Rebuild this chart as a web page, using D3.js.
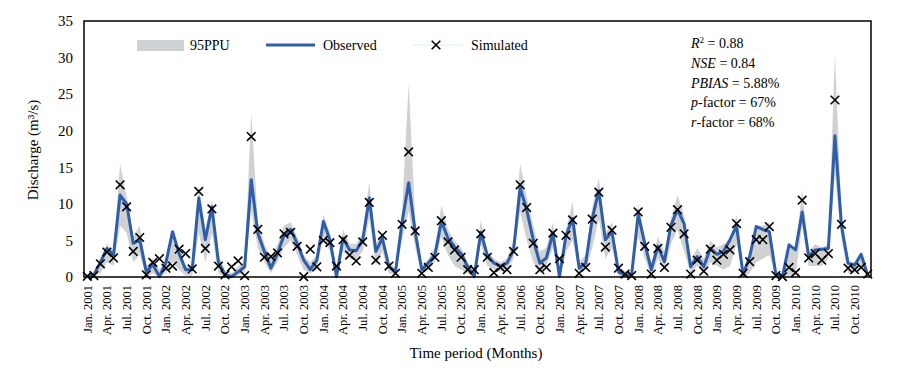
<!DOCTYPE html>
<html>
<head>
<meta charset="utf-8">
<script src="https://cdn.jsdelivr.net/npm/d3@7"></script>
<style>
  body { margin: 0; background: #fff; }
  text { font-family: "Liberation Serif", "Times New Roman", serif; fill: #000; }
</style>
</head>
<body>
<div id="chart"></div>
<script>
// monthly series, Jan 2001 - Dec 2010
const monthNames = ["Jan.", "Feb.", "Mar.", "Apr.", "May.", "Jun.", "Jul.", "Aug.", "Sep.", "Oct.", "Nov.", "Dec."];
const years = [2001, 2002, 2003, 2004, 2005, 2006, 2007, 2008, 2009, 2010];
const months = years.flatMap(y => monthNames.map(m => m + " " + y));

const observed = [
  0.1, 0.3, 2.0, 3.9, 3.0, 11.2, 10.0, 4.6, 5.1, 0.7, 1.7, 0.05,
  2.0, 6.2, 3.2, 1.0, 1.0, 10.8, 5.1, 9.6, 2.0, 0.3, 0.05, 0.7,
  1.4, 13.3, 6.0, 3.5, 1.2, 3.2, 5.7, 6.5, 4.6, 2.3, 1.0, 2.3,
  7.6, 5.1, 0.05, 5.3, 3.7, 3.6, 5.1, 10.8, 3.5, 5.3, 1.4, 0.7,
  7.5, 12.9, 6.2, 1.0, 1.9, 3.0, 7.6, 5.3, 4.1, 3.2, 1.4, 0.05,
  6.1, 3.0, 1.9, 1.5, 1.9, 3.7, 12.2, 9.2, 5.1, 1.9, 2.6, 6.0,
  0.05, 5.7, 8.0, 1.2, 1.9, 8.0, 11.8, 5.1, 6.2, 0.7, 0.3, 0.3,
  8.6, 4.6, 1.0, 4.2, 2.1, 7.1, 9.2, 7.3, 1.4, 2.8, 1.4, 3.9,
  3.1, 3.5, 5.1, 7.0, 0.3, 2.8, 6.9, 6.5, 6.2, 0.3, 0.05, 4.4,
  3.7, 8.9, 2.8, 3.7, 3.8, 3.9, 19.3, 7.0, 1.9, 1.6, 3.1, 0.2
];

const simulated = [
  0.1, 0.2, 1.8, 3.4, 2.6, 12.6, 9.6, 3.5, 5.4, 0.3, 2.0, 2.5,
  1.2, 1.5, 3.8, 3.2, 1.1, 11.7, 3.9, 9.3, 1.5, 0.3, 1.4, 2.2,
  0.2, 19.2, 6.5, 2.7, 2.8, 3.3, 5.9, 6.1, 4.2, 0.05, 3.8, 1.4,
  5.0, 4.7, 1.5, 5.1, 3.0, 2.2, 4.8, 10.2, 2.3, 5.7, 1.5, 0.5,
  7.2, 17.1, 6.3, 0.5, 1.3, 2.7, 7.7, 4.8, 3.7, 2.7, 1.0, 1.0,
  5.9, 2.7, 0.6, 1.3, 1.0, 3.5, 12.6, 9.5, 4.6, 1.0, 1.3, 6.0,
  2.5, 5.7, 7.8, 0.5, 1.3, 7.9, 11.6, 4.1, 6.4, 1.2, 0.4, 0.2,
  8.9, 4.2, 0.4, 3.9, 1.3, 6.8, 9.2, 5.9, 0.4, 2.3, 0.8, 3.8,
  2.3, 3.1, 3.7, 7.3, 0.5, 2.1, 5.1, 5.1, 6.9, 0.2, 0.05, 1.3,
  0.6, 10.5, 2.6, 3.2, 2.3, 3.2, 24.2, 7.2, 1.2, 1.0, 1.3, 0.4
];

const ppuLower = [
  0, 0, 0.5, 2.0, 1.5, 7.0, 6.0, 2.0, 3.0, 0, 0.5, 0,
  0.5, 2.0, 1.0, 0.2, 0.2, 6.0, 2.0, 6.0, 0.5, 0, 0, 0.2,
  0.5, 9.0, 4.0, 2.0, 0.5, 2.0, 4.0, 5.0, 3.0, 1.0, 0.5, 1.0,
  5.5, 3.5, 0, 3.5, 2.5, 2.5, 3.5, 8.0, 1.5, 3.5, 0.5, 0.2,
  5.0, 9.0, 4.0, 0.5, 1.0, 2.0, 5.5, 3.0, 1.5, 1.0, 0.5, 0,
  4.5, 1.5, 1.0, 0.8, 1.0, 2.5, 9.0, 5.0, 2.0, 0.5, 1.5, 4.0,
  0, 3.5, 5.0, 0.5, 1.0, 4.0, 8.0, 2.5, 4.0, 0.2, 0, 0,
  5.5, 2.5, 0.2, 2.5, 1.0, 4.5, 6.5, 3.5, 0.5, 1.5, 0.5, 2.0,
  1.5, 1.0, 1.5, 4.5, 0, 0.5, 2.0, 2.5, 3.0, 0, 0, 0.2,
  0.3, 7.0, 1.5, 1.5, 1.5, 2.5, 14.0, 5.0, 0.5, 0.5, 1.5, 0
];

const ppuUpper = [
  0.3, 0.5, 2.5, 4.5, 3.5, 15.5, 11.0, 5.5, 7.0, 1.5, 2.5, 1.0,
  2.5, 6.5, 4.0, 1.5, 1.5, 12.5, 6.5, 10.5, 3.0, 1.0, 0.5, 1.5,
  2.0, 22.5, 7.5, 4.5, 2.5, 4.5, 7.0, 7.5, 5.5, 3.0, 2.0, 3.0,
  8.5, 6.0, 1.0, 6.5, 4.5, 4.5, 6.0, 13.0, 4.5, 6.0, 2.0, 1.2,
  9.0, 26.5, 8.0, 1.5, 2.5, 4.0, 9.8, 6.5, 5.0, 4.0, 2.0, 0.5,
  7.8, 3.5, 2.5, 2.0, 2.5, 5.0, 15.5, 11.0, 7.0, 3.5, 4.0, 7.5,
  1.0, 6.5, 10.3, 2.0, 3.0, 9.5, 13.5, 6.0, 7.5, 1.5, 0.8, 0.8,
  10.0, 5.5, 2.0, 5.5, 3.5, 8.0, 11.2, 8.5, 2.0, 4.0, 2.5, 5.0,
  4.0, 4.5, 5.0, 8.5, 1.0, 3.0, 7.0, 7.0, 7.5, 0.8, 0.5, 4.5,
  3.5, 12.0, 3.5, 4.5, 4.0, 4.5, 30.5, 8.5, 2.0, 2.0, 3.5, 0.5
];

const yTicks = [0, 5, 10, 15, 20, 25, 30, 35];

const data = months.map((m, i) => ({
  month: m, obs: observed[i], sim: simulated[i], lo: ppuLower[i], hi: ppuUpper[i]
}));

const width = 924, height = 375;
const margin = {top: 21, right: 53, bottom: 98, left: 84};
const innerW = width - margin.left - margin.right;
const innerH = height - margin.top - margin.bottom;

const svg = d3.select("#chart").append("svg")
    .attr("width", width)
    .attr("height", height);

const g = svg.append("g")
    .attr("transform", `translate(${margin.left}, ${margin.top})`);

const x = d3.scaleBand()
    .domain(months)
    .range([0, innerW])
    .padding(0);
const cx = d => x(d.month) + x.bandwidth() / 2;

const y = d3.scaleLinear()
    .domain([0, 35])
    .range([innerH, 0]);

// 95PPU band
g.append("path")
    .datum(data)
    .attr("fill", "#cfd1d2")
    .attr("d", d3.area()
      .x(cx)
      .y0(d => y(d.lo))
      .y1(d => y(d.hi)));

// observed line
g.append("path")
    .datum(data)
    .attr("fill", "none")
    .attr("stroke", "#2f5ea8")
    .attr("stroke-width", 3)
    .attr("stroke-linejoin", "round")
    .attr("d", d3.line().x(cx).y(d => y(d.obs)));

// simulated markers
const cross = d3.symbol().type(d3.symbolX).size(50);
g.selectAll(".sim")
  .data(data)
  .join("path")
    .attr("class", "sim")
    .attr("transform", d => `translate(${cx(d)}, ${y(d.sim)})`)
    .attr("d", cross)
    .attr("fill", "none")
    .attr("stroke", "#000")
    .attr("stroke-width", 1.6);

// axes
const yAxis = g.append("g")
    .call(d3.axisLeft(y).tickValues(yTicks).tickSize(0).tickPadding(11));
yAxis.select(".domain").remove();
yAxis.selectAll("text")
    .attr("font-family", "Liberation Serif")
    .attr("font-size", 15);

const xAxis = g.append("g")
    .attr("transform", `translate(0, ${innerH})`)
    .call(d3.axisBottom(x)
      .tickValues(months.filter((m, i) => i % 3 === 0))
      .tickSize(0));
xAxis.select(".domain").remove();
xAxis.selectAll("text")
    .attr("font-family", "Liberation Serif")
    .attr("font-size", 12.5)
    .attr("text-anchor", "end")
    .attr("transform", "rotate(-90)")
    .attr("x", -8)
    .attr("y", 0)
    .attr("dy", "0.35em");

// plot frame
g.append("rect")
    .attr("width", innerW)
    .attr("height", innerH)
    .attr("fill", "none")
    .attr("stroke", "#000")
    .attr("stroke-width", 1.5);

// axis titles
svg.append("text")
    .attr("text-anchor", "middle")
    .attr("font-size", 15)
    .attr("transform", "translate(38, 150) rotate(-90)")
    .text("Discharge (m³/s)");

svg.append("text")
    .attr("text-anchor", "middle")
    .attr("font-size", 15)
    .attr("x", 476)
    .attr("y", 358)
    .text("Time period (Months)");

// legend
const leg = svg.append("g").attr("font-size", 14);
leg.append("rect")
    .attr("x", 137).attr("y", 40).attr("width", 47).attr("height", 11)
    .attr("fill", "#cfd1d2");
leg.append("text").attr("x", 190).attr("y", 50).text("95PPU");
leg.append("line")
    .attr("x1", 266).attr("x2", 315).attr("y1", 45).attr("y2", 45)
    .attr("stroke", "#2f5ea8").attr("stroke-width", 3);
leg.append("text").attr("x", 323).attr("y", 50).text("Observed");
leg.append("line")
    .attr("x1", 413).attr("x2", 463).attr("y1", 45).attr("y2", 45)
    .attr("stroke", "#dcecf2").attr("stroke-width", 1);
leg.append("path")
    .attr("transform", "translate(436, 45)")
    .attr("d", cross)
    .attr("fill", "none").attr("stroke", "#000").attr("stroke-width", 1.6);
leg.append("text").attr("x", 471).attr("y", 50).text("Simulated");

// statistics
const stats = svg.append("g").attr("font-size", 14);
const s1 = stats.append("text").attr("x", 691).attr("y", 48);
s1.append("tspan").attr("font-style", "italic").text("R");
s1.append("tspan").attr("font-size", 9).attr("dy", -5).text("2");
s1.append("tspan").attr("dy", 5).text(" = 0.88");

const s2 = stats.append("text").attr("x", 691).attr("y", 68);
s2.append("tspan").attr("font-style", "italic").text("NSE");
s2.append("tspan").text(" = 0.84");

const s3 = stats.append("text").attr("x", 691).attr("y", 88);
s3.append("tspan").attr("font-style", "italic").text("PBIAS");
s3.append("tspan").text(" = 5.88%");

const s4 = stats.append("text").attr("x", 691).attr("y", 107);
s4.append("tspan").attr("font-style", "italic").text("p");
s4.append("tspan").text("-factor = 67%");

const s5 = stats.append("text").attr("x", 691).attr("y", 127);
s5.append("tspan").attr("font-style", "italic").text("r");
s5.append("tspan").text("-factor = 68%");
</script>
</body>
</html>
